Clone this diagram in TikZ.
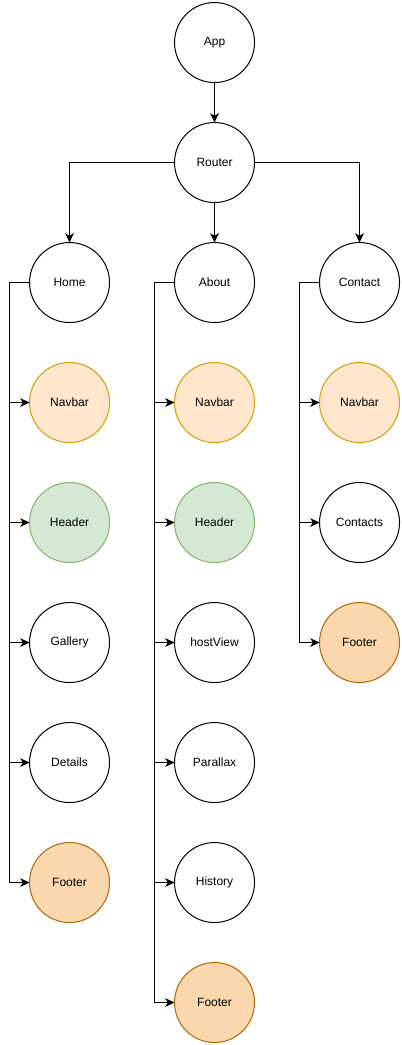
\documentclass[tikz,border=0pt]{standalone}
\usepackage{fontspec}
\setmainfont{Liberation Sans}
\usetikzlibrary{positioning,arrows.meta}
\definecolor{navbarfill}{HTML}{FFE6CC}
\definecolor{navbardraw}{HTML}{D79B00}
\definecolor{headerfill}{HTML}{D5E8D4}
\definecolor{headerdraw}{HTML}{82B366}
\definecolor{footerfill}{HTML}{FAD7AC}
\definecolor{footerdraw}{HTML}{B46504}
\tikzset{
    page/.style={
        circle,
        minimum size=60pt,
        inner sep=0pt,
        outer sep=0pt,
        draw=black,
        fill=white,
        line width=0.75pt,
        font=\fontsize{9}{11}\selectfont,
    },
    navbar page/.style={page, fill=navbarfill, draw=navbardraw},
    header page/.style={page, fill=headerfill, draw=headerdraw},
    footer page/.style={page, fill=footerfill, draw=footerdraw},
    link/.style={-{Stealth[length=7pt,width=6.5pt,inset=2pt]}, line width=0.75pt}
}

\begin{document}
\begin{tikzpicture}[node distance=30pt]
\useasboundingbox (0,0) rectangle (301.5pt,-783.75pt);

%Top of the tree
\node[page] (app) at (160.9pt,-31.9pt) {App};
\node[page, below=of app] (router) {Router};
\node[page, below=of router] (about) {About};
\node[page, left=48.75pt of about] (home) {Home};
\node[page, right=48.75pt of about] (contact) {Contact};

%Home column
\node[navbar page, below=of home] (home-navbar) {Navbar};
\node[header page, below=of home-navbar] (home-header) {Header};
\node[page, below=of home-header] (home-gallery) {Gallery};
\node[page, below=of home-gallery] (home-details) {Details};
\node[footer page, below=of home-details] (home-footer) {Footer};

%About column
\node[navbar page, below=of about] (about-navbar) {Navbar};
\node[header page, below=of about-navbar] (about-header) {Header};
\node[page, below=of about-header] (about-hostview) {hostView};
\node[page, below=of about-hostview] (about-parallax) {Parallax};
\node[page, below=of about-parallax] (about-history) {History};
\node[footer page, below=of about-history] (about-footer) {Footer};

%Contact column
\node[navbar page, below=of contact] (contact-navbar) {Navbar};
\node[page, below=of contact-navbar] (contact-contacts) {Contacts};
\node[footer page, below=of contact-contacts] (contact-footer) {Footer};

\draw[link] (app) -- (router);
\draw[link] (router) -- (about);
\draw[link] (router.west) -| (home.north);
\draw[link] (router.east) -| (contact.north);

\foreach \child in {navbar,header,gallery,details,footer}
    \draw[link] (home.west) -- ++(-15.4pt,0) |- (home-\child.west);

\foreach \child in {navbar,header,hostview,parallax,history,footer}
    \draw[link] (about.west) -- ++(-15.4pt,0) |- (about-\child.west);

\foreach \child in {navbar,contacts,footer}
    \draw[link] (contact.west) -- ++(-15.4pt,0) |- (contact-\child.west);

\end{tikzpicture}
\end{document}
